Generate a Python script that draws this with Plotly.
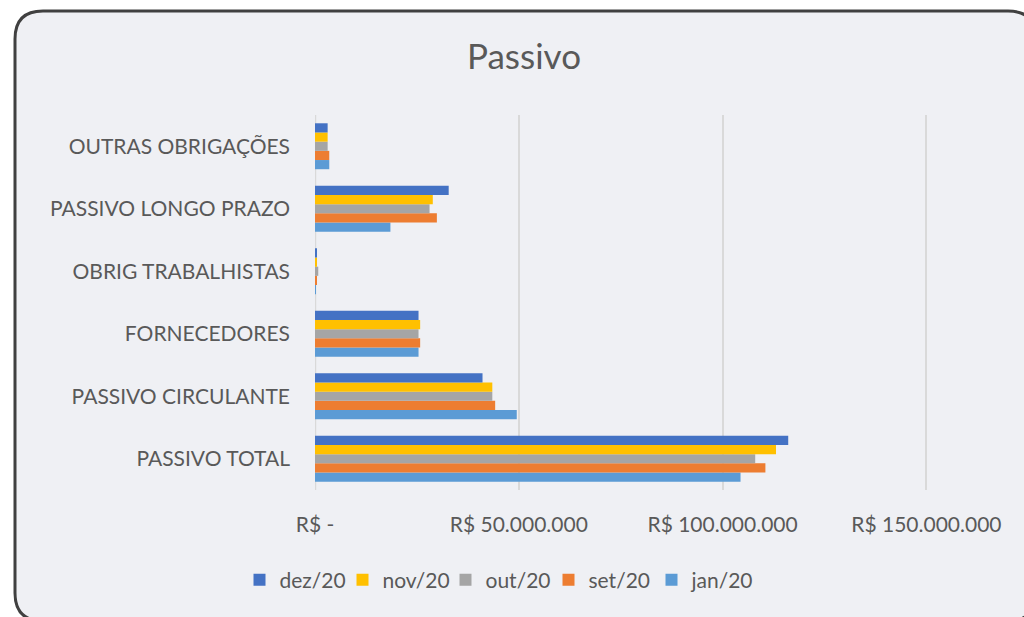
import plotly.graph_objects as go

categories = ["PASSIVO TOTAL", "PASSIVO CIRCULANTE", "FORNECEDORES",
              "OBRIG TRABALHISTAS", "PASSIVO LONGO PRAZO", "OUTRAS OBRIGAÇÕES"]

jan20 = [104.4e6, 49.5e6, 25.4e6, 0.1e6, 18.5e6, 3.5e6]
set20 = [110.5e6, 44.2e6, 25.8e6, 0.4e6, 29.9e6, 3.5e6]
out20 = [108.0e6, 43.5e6, 25.4e6, 0.8e6, 28.1e6, 3.1e6]
nov20 = [113.1e6, 43.5e6, 25.8e6, 0.4e6, 28.9e6, 3.1e6]
dez20 = [116.1e6, 41.1e6, 25.4e6, 0.4e6, 32.8e6, 3.1e6]

series_names = ["jan/20", "set/20", "out/20", "nov/20", "dez/20"]
series_values = [jan20, set20, out20, nov20, dez20]
series_colors = ["#5B9BD5", "#ED7D31", "#A5A5A5", "#FFC000", "#4472C4"]

tick_vals = [0, 50e6, 100e6, 150e6]
tick_text = ["R$ -", "R$ 50.000.000", "R$ 100.000.000", "R$ 150.000.000"]

FONT = "Lato"
TXT = "#595959"

fig = go.Figure()
for name, vals, col in zip(series_names, series_values, series_colors):
    fig.add_trace(go.Bar(y=categories, x=vals, name=name, orientation="h",
                         marker=dict(color=col, line=dict(width=0))))

W, H = 1024, 617
L, R, T, B = 315, 1024, 115, 490
px_per = 4.076 / 1e6
xmax = (R - L) / px_per

# rounded frame in pixel coordinates relative to paper (0,0), y up
fl, fr, ft, fb = 15 - L, 1036 - L, B - 11, B - 621
r = 28
path = (f"M{fl+r},{ft} L{fr-r},{ft} Q{fr},{ft} {fr},{ft-r} L{fr},{fb+r} "
        f"Q{fr},{fb} {fr-r},{fb} L{fl+r},{fb} Q{fl},{fb} {fl},{fb+r} "
        f"L{fl},{ft-r} Q{fl},{ft} {fl+r},{ft} Z")

fig.update_layout(
    width=W, height=H,
    margin=dict(l=L, r=W - R, t=T, b=H - B),
    paper_bgcolor="white",
    plot_bgcolor="rgba(0,0,0,0)",
    barmode="group",
    bargap=0.265,
    bargroupgap=0,
    font=dict(family=FONT, color=TXT, size=21),
    title=dict(text="Passivo", x=524 / W, xref="container", xanchor="center",
               y=1 - 57 / H, yref="container", yanchor="middle",
               font=dict(family=FONT, size=35, color=TXT)),
    xaxis=dict(range=[0, xmax], tickvals=tick_vals, ticktext=tick_text,
               showgrid=True, gridcolor="#D9D9D9", gridwidth=1.5,
               zeroline=False, showline=False, ticks="",
               ticklabelstandoff=20,
               tickfont=dict(family=FONT, size=21, color=TXT)),
    yaxis=dict(categoryorder="array", categoryarray=categories,
               showgrid=False, zeroline=False, ticks="",
               ticklabelstandoff=24,
               tickfont=dict(family=FONT, size=21, color=TXT)),
    legend=dict(orientation="h", traceorder="reversed",
                x=(497 - L) / (R - L), xanchor="center",
                y=(B - 580) / (B - T), yanchor="middle",
                font=dict(family=FONT, size=21, color=TXT),
                bgcolor="rgba(0,0,0,0)", itemwidth=30,
                entrywidth=58, entrywidthmode="pixels"),
    shapes=[
        dict(type="path", xref="paper", yref="paper", xsizemode="pixel",
             ysizemode="pixel", xanchor=0, yanchor=0, path=path,
             fillcolor="#EFF0F4", line=dict(color="#404040", width=3),
             layer="below"),
        dict(type="line", xref="x", yref="paper", x0=0, x1=0, y0=0, y1=1,
             line=dict(color="#D9D9D9", width=2.5), layer="below"),
    ],
)

fig.write_html(
    "out.html",
    config={"displayModeBar": False},
    post_script="document.body.style.margin='0';document.body.style.overflow='hidden';",
)
